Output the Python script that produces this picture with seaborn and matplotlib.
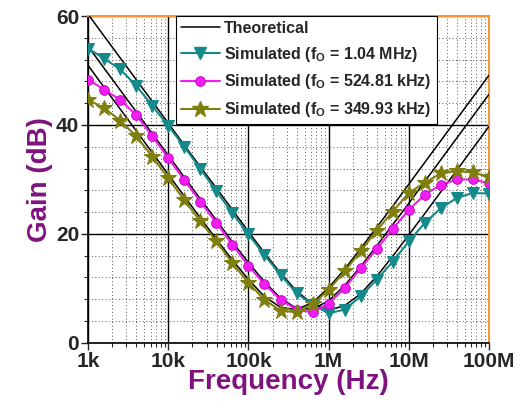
import numpy as np
import pandas as pd
import matplotlib
matplotlib.use('Agg')
import matplotlib.pyplot as plt
import matplotlib.ticker as mtick
from matplotlib.lines import Line2D
import seaborn as sns

# frequency points (Hz), 5 per decade
freq_hz = [1.00e3, 1.58e3, 2.51e3, 3.98e3, 6.31e3,
           1.00e4, 1.58e4, 2.51e4, 3.98e4, 6.31e4,
           1.00e5, 1.58e5, 2.51e5, 3.98e5, 6.31e5,
           1.00e6, 1.58e6, 2.51e6, 3.98e6, 6.31e6,
           1.00e7, 1.58e7, 2.51e7, 3.98e7, 6.31e7, 1.00e8]

# theoretical gain (dB)
theo_104M = [60.3, 56.3, 52.3, 48.3, 44.3, 40.3, 36.3, 32.3, 28.4, 24.4,
             20.4, 16.5, 12.8, 9.5, 7.1, 6.0, 6.8, 9.0, 12.2, 15.9,
             19.8, 23.7, 27.7, 31.7, 35.7, 39.7]
theo_524k = [54.4, 50.4, 46.4, 42.4, 38.4, 34.4, 30.4, 26.4, 22.5, 18.5,
             14.7, 11.2, 8.2, 6.3, 6.2, 7.7, 10.5, 14.0, 17.8, 21.7,
             25.6, 29.6, 33.6, 37.6, 41.6, 45.6]
theo_349k = [50.9, 46.9, 42.9, 38.9, 34.9, 30.9, 26.9, 22.9, 19.0, 15.2,
             11.6, 8.5, 6.5, 6.1, 7.4, 10.1, 13.5, 17.3, 21.2, 25.1,
             29.1, 33.1, 37.1, 41.1, 45.1, 49.1]

# simulated gain (dB)
sim_104M = [54.0, 52.2, 50.2, 47.2, 43.5, 39.8, 36.0, 31.9, 27.8, 23.8,
            19.9, 16.1, 12.5, 9.1, 7.0, 5.4, 6.1, 8.5, 11.6, 14.9,
            18.6, 22.0, 24.7, 26.6, 27.5, 27.4]
sim_524k = [48.3, 46.5, 44.6, 41.8, 37.9, 33.9, 29.9, 25.9, 22.0, 18.0,
            14.1, 10.8, 7.9, 6.1, 5.6, 7.2, 10.0, 13.7, 17.2, 20.9,
            24.4, 27.2, 29.0, 30.0, 30.0, 29.3]
sim_349k = [44.6, 43.1, 40.8, 37.9, 34.2, 30.2, 26.2, 22.3, 18.6, 14.6,
            11.0, 7.9, 5.9, 5.6, 7.1, 9.7, 13.1, 16.8, 20.6, 24.1,
            27.5, 29.4, 31.1, 31.5, 31.3, 30.4]

labels_sim = [r'Simulated (f$_\mathbf{O}$ = 1.04 MHz)',
              r'Simulated (f$_\mathbf{O}$ = 524.81 kHz)',
              r'Simulated (f$_\mathbf{O}$ = 349.93 kHz)']

sns.set_style('white')
plt.rcParams['font.family'] = ['Liberation Sans', 'DejaVu Sans']
plt.rcParams['font.weight'] = 'bold'
plt.rcParams['mathtext.fontset'] = 'custom'
plt.rcParams['mathtext.rm'] = 'Liberation Sans:bold'
plt.rcParams['mathtext.bf'] = 'Liberation Sans:bold'

teal = '#168a8a'
magenta = '#f01ef0'
olive = '#7f7f0f'
purple = '#7e137e'

fig, ax = plt.subplots(figsize=(5.19, 4.11), dpi=100)
fig.subplots_adjust(left=0.170, right=0.942, top=0.961, bottom=0.166)

df = pd.DataFrame({'f': freq_hz})

for th in [theo_104M, theo_524k, theo_349k]:
    sns.lineplot(x=df['f'], y=th, color='black', lw=1.1, ax=ax, zorder=3)

sns.lineplot(x=df['f'], y=sim_104M, color=teal, lw=1.5, marker='v', markersize=8,
             markeredgecolor=teal, ax=ax, zorder=4)
sns.lineplot(x=df['f'], y=sim_524k, color=magenta, lw=1.5, marker='o', markersize=7,
             markeredgecolor='#c000c0', markeredgewidth=0.6, ax=ax, zorder=4)
sns.lineplot(x=df['f'], y=sim_349k, color=olive, lw=1.5, marker='*', markersize=12,
             markeredgecolor=olive, ax=ax, zorder=4)

ax.set_xscale('log')
ax.set_xlim(1e3, 1e8)
ax.set_ylim(0, 60)
ax.set_xticks([1e3, 1e4, 1e5, 1e6, 1e7, 1e8])
ax.set_xticklabels(['1k', '10k', '100k', '1M', '10M', '100M'])
ax.xaxis.set_minor_locator(mtick.LogLocator(base=10, subs=np.arange(2, 10), numticks=20))
ax.xaxis.set_minor_formatter(mtick.NullFormatter())
ax.yaxis.set_major_locator(mtick.MultipleLocator(20))
ax.yaxis.set_minor_locator(mtick.MultipleLocator(4))

ax.grid(which='major', color='black', lw=1.0, ls='-', zorder=1)
ax.grid(which='minor', color='#555555', lw=0.7, ls=(0, (1, 2.5)), zorder=1)
ax.set_axisbelow(True)

ax.tick_params(which='major', direction='out', length=5, width=1, labelsize=15,
               bottom=True, left=True, pad=1.5)
ax.tick_params(which='minor', direction='out', length=3, width=0.8,
               bottom=True, left=True)
for lab in ax.get_xticklabels() + ax.get_yticklabels():
    lab.set_fontweight('bold')

for s in ['left', 'bottom']:
    ax.spines[s].set_color('black')
    ax.spines[s].set_linewidth(1.2)
for s in ['top', 'right']:
    ax.spines[s].set_color('#f29a38')
    ax.spines[s].set_linewidth(1.5)

ax.set_xlabel('Frequency (Hz)', fontsize=20, fontweight='bold', color=purple, labelpad=-1)
ax.set_ylabel('Gain (dB)', fontsize=20, fontweight='bold', color=purple, labelpad=2)

handles = [Line2D([], [], color='black', lw=1.1),
           Line2D([], [], color=teal, lw=1.5, marker='v', markersize=8),
           Line2D([], [], color=magenta, lw=1.5, marker='o', markersize=7,
                  markeredgecolor='#c000c0', markeredgewidth=0.6),
           Line2D([], [], color=olive, lw=1.5, marker='*', markersize=12)]
leg = ax.legend(handles, ['Theoretical'] + labels_sim, loc='upper left',
                bbox_to_anchor=(0.22, 1.0), fontsize=11.5, frameon=True,
                fancybox=False, edgecolor='black', framealpha=1,
                handlelength=2.4, handletextpad=0.3, borderpad=0.3,
                labelspacing=0.55, borderaxespad=0)
leg.get_frame().set_linewidth(0.8)
for t in leg.get_texts():
    t.set_fontweight('bold')

fig.savefig('out.png', dpi=100)
